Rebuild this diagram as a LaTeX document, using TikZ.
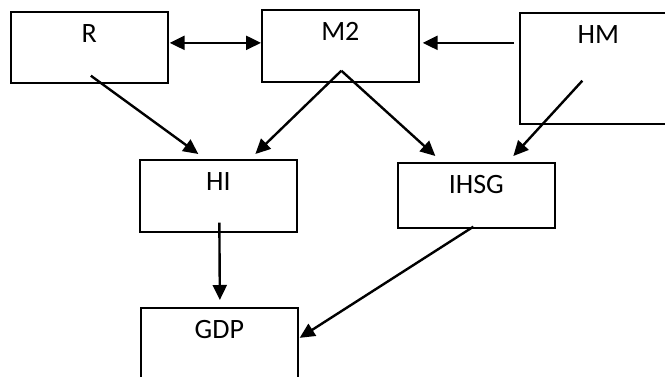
\documentclass[tikz,border=0pt]{standalone}
\usepackage{fontspec}
\setmainfont{Carlito}
\usepackage{tikz}
\usetikzlibrary{arrows.meta,calc}

\begin{document}
\begin{tikzpicture}[
  x=1pt, y=-1pt,
  box/.style={draw=black, line width=1.7pt, anchor=north west,
              minimum width=157pt, inner sep=0pt,
              text height=31pt, text depth=#1,
              font=\fontsize{28}{32}\selectfont},
  arr/.style={-{Triangle[length=15pt, width=14pt]}, line width=2.4pt, black},
  darr/.style={{Triangle[length=15pt, width=14pt]}-{Triangle[length=15pt, width=14pt]},
               line width=2.4pt, black},
]
  \useasboundingbox (0,0) rectangle (665,376);
  \clip (0,0) rectangle (665,376);
  \fill[white] (0,0) rectangle (665,376);
  \node[box=40pt] (R)    at (10,11)   {R};
  \node[box=41pt] (M2)   at (261,9)   {M2};
  \node[box=80pt] (HM)   at (519,12)  {HM};
  \node[box=41pt] (HI)   at (139,159) {HI};
  \node[box=34pt] (IHSG) at (397,162) {IHSG};
  \node[box=41pt] (GDP)  at (140,307) {GDP};
  \draw[darr] ($(R.east)+(1,-4.5)$) -- ($(R.east -| M2.west)+(0,-4.5)$);
  \draw[arr] ($(M2.east -| HM.west)+(-5,-3)$) -- ($(M2.east)+(3,-3)$);
  \draw[arr] ($(R.south)+(1.5,-8)$) -- ($(HI.north)+(-20,-5)$);
  \draw[arr] ($(M2.south)+(1,-12)$) -- ($(HI.north)+(37,-5)$);
  \draw[arr] ($(M2.south)+(1,-12)$) -- ($(IHSG.north)+(-41,-6)$);
  \draw[arr] ($(HM.south)+(-16,-44)$) -- ($(IHSG.north)+(37,-6)$);
  \draw[arr] ($(HI.south)+(1,-10)$) -- ($(GDP.north)+(0.5,-7)$);
  \draw[arr] ($(IHSG.south)+(-3,-2)$) -- ($(GDP.east)+(1,-6)$);
\end{tikzpicture}
\end{document}
